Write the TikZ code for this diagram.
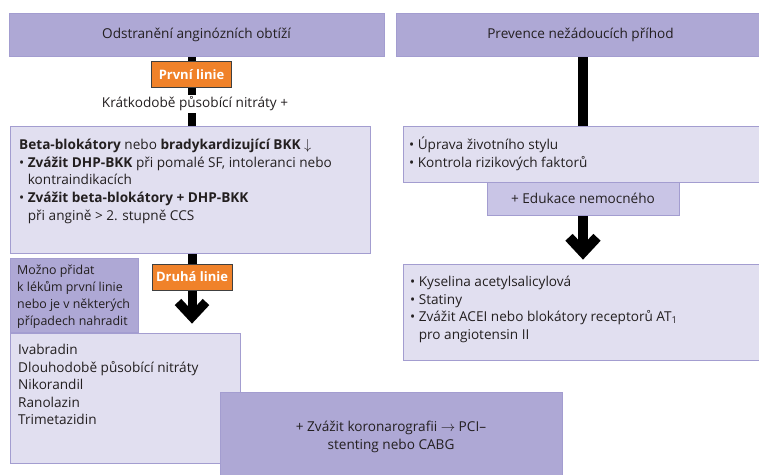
\documentclass[tikz,border=0pt]{standalone}
\usepackage{fontspec}
\setmainfont{Open Sans}
\usetikzlibrary{positioning,arrows.meta,backgrounds}

\definecolor{lilac}{HTML}{AEA8D5}
\definecolor{lilacmid}{HTML}{C9C5E6}
\definecolor{lilaclight}{HTML}{E1DFF0}
\definecolor{lilacline}{HTML}{A39DD0}
\definecolor{lineorange}{HTML}{F0822A}
\definecolor{inkdark}{HTML}{231F20}

\newcommand{\bul}{\textbullet\ }
\newcommand{\ind}{\hphantom{\textbullet\ }}

\begin{document}
\begin{tikzpicture}[x=1pt,y=-1pt,
                    font=\fontsize{13.6}{17.6}\selectfont,text=inkdark,
                    darkbox/.style={draw=lilacline,fill=lilac,line width=0.8pt,inner sep=0pt},
                    midbox/.style={draw=lilacline,fill=lilacmid,line width=0.8pt,inner sep=0pt},
                    lightbox/.style={draw=lilacline,fill=lilaclight,line width=0.8pt,inner sep=0pt},
                    linebox/.style={draw=black!75,fill=lineorange,text=white,line width=1pt,
                                    font=\fontsize{13}{14}\selectfont\bfseries,
                                    minimum width=80pt,minimum height=26pt,inner sep=0pt},
                    txt/.style={anchor=north west,align=left,inner sep=0pt},
                    stem/.style={line width=8pt,black},
                    bigarrow/.style={line width=9pt,black,-{Straight Barb[sharp,length=15pt,width=28pt]}}
                   ]
  \useasboundingbox (0,0) rectangle (759,474);

  % left column
  \node[darkbox,minimum width=375pt,minimum height=43pt] (hdL) at (196.5,34.5) {Odstranění anginózních obtíží};
  \node[linebox] (prv) at (191.5,74.5) {První linie};
  \node[fill=white,inner sep=2pt] (krat) at (195,104) {Krátkodobě působící nitráty +};
  \node[lightbox,minimum width=360pt,minimum height=127pt] (beta) at (190,189.5) {};
  \node[txt] (betatxt) at (19,139) {\textbf{Beta-blokátory} nebo \textbf{bradykardizující BKK} $\downarrow$\\
    \bul\textbf{Zvážit DHP-BKK} při pomalé SF, intoleranci nebo\\
    \ind kontraindikacích\\
    \bul\textbf{Zvážit beta-blokátory + DHP-BKK}\\
    \ind při angině > 2. stupně CCS};
  \node[linebox] (dru) at (192,277) {Druhá linie};
  \node[darkbox,minimum width=128pt,minimum height=74pt] (mozno) at (74,295) {};
  \node[txt,font=\fontsize{12.4}{17}\selectfont] (moznotxt) at (17,265) {Možno přidat\\k lékům první linie\\nebo je v některých\\případech nahradit};
  \node[lightbox,minimum width=230pt,minimum height=130pt] (iva) at (125,398) {};
  \node[txt] (ivatxt) at (18,344) {Ivabradin\\Dlouhodobě působící nitráty\\Nikorandil\\Ranolazin\\Trimetazidin};
  \node[darkbox,minimum width=342pt,minimum height=90pt,align=center] (kor) at (391,437) {+ Zvážit koronarografii $\rightarrow$ PCI–\\stenting nebo CABG};

  % right column
  \node[darkbox,minimum width=369pt,minimum height=43pt] (hdR) at (580.5,34.5) {Prevence nežádoucích příhod};
  \node[lightbox,minimum width=359pt,minimum height=56pt] (upr) at (582.5,154) {};
  \node[txt] (uprtxt) at (409,137) {\bul Úprava životního stylu\\\bul Kontrola rizikových faktorů};
  \node[midbox,minimum width=192pt,minimum height=33pt] (edu) at (583,198.5) {+ Edukace nemocného};
  \node[lightbox,minimum width=359pt,minimum height=96pt] (kys) at (582.5,312) {};
  \node[txt] (kystxt) at (410,276) {\bul Kyselina acetylsalicylová\\\bul Statiny\\
    \bul Zvážit ACEI nebo blokátory receptorů AT\textsubscript{1}\\\ind pro angiotensin II};

  \begin{scope}[on background layer]
    \draw[stem] (hdL.south -| prv) -- (beta.north -| prv);
    \draw[bigarrow,shorten >=9pt] (beta.south -| dru) -- (iva.north -| dru);
    \draw[stem,line width=10pt] (hdR.south -| edu) -- (upr.north -| edu);
    \draw[bigarrow,line width=10pt,shorten >=4pt] (edu) -- (kys.north -| edu);
  \end{scope}
\end{tikzpicture}
\end{document}
